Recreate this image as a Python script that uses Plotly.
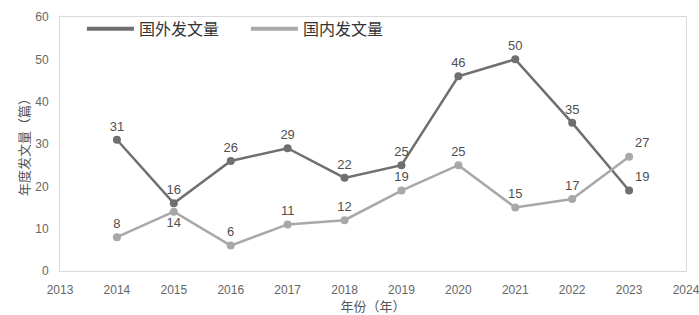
import plotly.graph_objects as go

years = [2014, 2015, 2016, 2017, 2018, 2019, 2020, 2021, 2022, 2023]
foreign = [31, 16, 26, 29, 22, 25, 46, 50, 35, 19]
domestic = [8, 14, 6, 11, 12, 19, 25, 15, 17, 27]
foreign_name = "国外发文量"
domestic_name = "国内发文量"
foreign_pos = ["top center"] * 9 + ["top right"]
domestic_pos = ["top center", "bottom center"] + ["top center"] * 7 + ["top right"]

dark = "#6f6f6f"
light = "#a8a8a8"
num_font = dict(family="Liberation Sans, DejaVu Sans", size=13, color="#505050")

fig = go.Figure()
fig.add_trace(go.Scatter(
    x=years, y=foreign, mode="lines+markers+text", name=foreign_name,
    line=dict(color=dark, width=2.5), marker=dict(color=dark, size=8),
    text=[str(v) for v in foreign], textposition=foreign_pos, textfont=num_font,
    showlegend=False, cliponaxis=False))
fig.add_trace(go.Scatter(
    x=years, y=domestic, mode="lines+markers+text", name=domestic_name,
    line=dict(color=light, width=2.5), marker=dict(color=light, size=8),
    text=[str(v) for v in domestic], textposition=domestic_pos, textfont=num_font,
    showlegend=False, cliponaxis=False))
# legend-only entries (line only)
fig.add_trace(go.Scatter(x=[None], y=[None], mode="lines", name=foreign_name,
                         line=dict(color=dark, width=4)))
fig.add_trace(go.Scatter(x=[None], y=[None], mode="lines", name=domestic_name,
                         line=dict(color=light, width=4)))

axis_font = dict(family="Liberation Sans, DejaVu Sans", size=12, color="#666666")
fig.update_layout(
    width=699, height=315,
    margin=dict(l=60, r=13, t=13, b=44),
    paper_bgcolor="white", plot_bgcolor="white",
    font=dict(family="Noto Sans CJK SC", color="#555555"),
    legend=dict(orientation="h", x=0.035, y=1.02, xanchor="left", yanchor="top",
                font=dict(family="Noto Sans CJK SC", size=16, color="#333333"),
                bgcolor="rgba(0,0,0,0)", itemwidth=47, entrywidth=102),
    xaxis=dict(range=[2013, 2024], dtick=1, tick0=2013, showgrid=False, zeroline=False,
               showline=True, mirror=True, linecolor="#d9d9d9", linewidth=1,
               tickfont=axis_font, ticks="", ticklabelstandoff=8, automargin=False,
               ticklabeloverflow="allow",
               title=dict(text="年份（年）", font=dict(family="Noto Sans CJK SC", size=13, color="#555555"),
                          standoff=4)),
    yaxis=dict(range=[0, 60], dtick=10, showgrid=False, zeroline=False,
               showline=True, mirror=True, linecolor="#d9d9d9", linewidth=1,
               tickfont=axis_font, ticks="", ticklabelstandoff=8, automargin=False,
               ticklabeloverflow="allow",
               title=dict(text="年度发文量（篇）", font=dict(family="Noto Sans CJK SC", size=13, color="#555555"),
                          standoff=2)),
)
fig.write_html("out.html")
